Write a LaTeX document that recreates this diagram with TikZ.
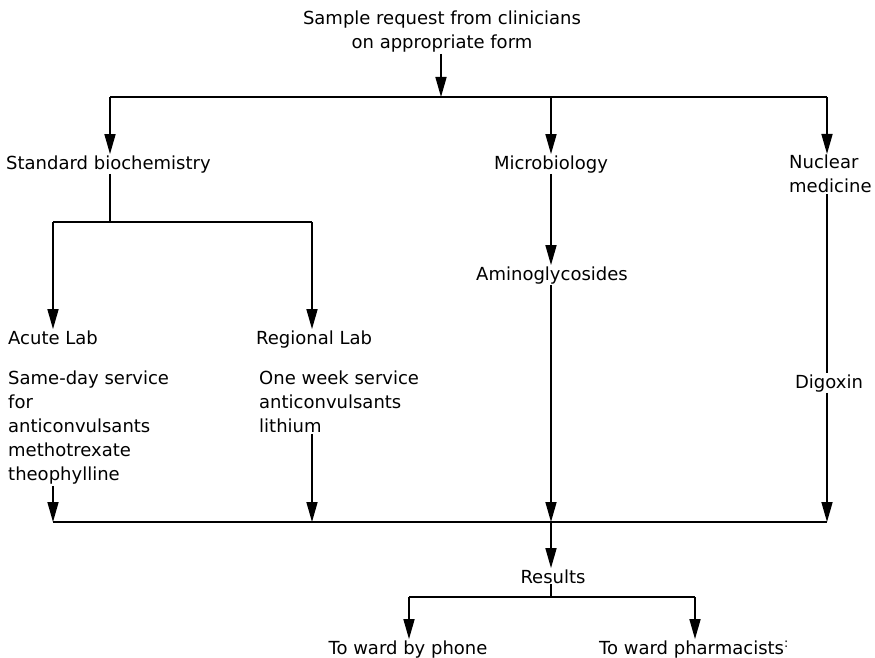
\documentclass[tikz,border=0pt]{standalone}
\usepackage{fontspec}
\setmainfont{DejaVu Sans}
\usetikzlibrary{arrows.meta}
\tikzset{
  lbl/.style={inner sep=1pt, font=\fontsize{18}{24}\selectfont},
  flow/.style={line width=1.6pt, -{Triangle[length=20pt,width=11pt]}},
  wire/.style={line width=1.6pt}
}
\begin{document}
\begin{tikzpicture}[x=1pt,y=-1pt]
\useasboundingbox (0,0) rectangle (875,658);
% labels
\node[lbl, align=center] (req) at (442,32) {Sample request from clinicians\\on appropriate form};
\node[lbl, anchor=base west] (std) at (5,169) {Standard biochemistry};
\node[lbl, anchor=base] (micro) at (551,169) {Microbiology};
\node[lbl, anchor=north west, align=left] (nuc) at (788,154) {Nuclear\\medicine};
\node[lbl, anchor=base west] (acute) at (7,344) {Acute Lab};
\node[lbl, anchor=base west] (regional) at (255,344) {Regional Lab};
\node[lbl, anchor=north west, align=left] (sameday) at (7,370) {Same-day service\\for\\anticonvulsants\\methotrexate\\theophylline};
\node[lbl, anchor=north west, align=left] (oneweek) at (258,370) {One week service\\anticonvulsants\\lithium};
\node[lbl, anchor=base] (amino) at (552,280) {Aminoglycosides};
\node[lbl, anchor=base] (digoxin) at (829,388) {Digoxin};
\node[lbl, anchor=base] (results) at (553,583) {Results};
\node[lbl, anchor=base] (phone) at (408,654) {To ward by phone};
\node[lbl, anchor=base west] (pharm) at (598,654) {To ward pharmacists\textsuperscript{:}};
% junctions
\coordinate (top) at (441,97);
\coordinate (tl) at (110,97);
\coordinate (tm) at (551,97);
\coordinate (tr) at (827,97);
\coordinate (split) at (110,222);
\coordinate (sl) at (53,222);
\coordinate (sr) at (312,222);
\coordinate (bl) at (53,522);
\coordinate (bm) at (312,522);
\coordinate (collect) at (551,522);
\coordinate (br) at (827,522);
\coordinate (out) at (551,597);
\coordinate (ol) at (409,597);
\coordinate (or) at (695,597);
% request to departments
\draw[flow] (top |- req.south) -- (top);
\draw[wire] (tl) -- (tr);
\draw[flow] (tl) -- (tl |- std.north);
\draw[flow] (tm) -- (tm |- micro.north);
\draw[flow] (tr) -- (tr |- nuc.north);
% biochemistry split
\draw[wire] (split |- std.south) -- (split);
\draw[wire] (sl) -- (sr);
\draw[flow] (sl) -- (sl |- acute.north);
\draw[flow] (sr) -- (sr |- regional.north);
\draw[flow] (tm |- micro.south) -- (tm |- amino.north);
\draw[wire] (tr |- nuc.south) -- (tr |- digoxin.north);
% into results
\draw[wire] (bl) -- (br);
\draw[flow] (bl |- sameday.south) -- (bl);
\draw[flow] (bm |- oneweek.south) -- (bm);
\draw[flow] (collect |- amino.south) -- (collect);
\draw[flow] (br |- digoxin.south) -- (br);
\draw[flow] (collect) -- (collect |- results.north);
% results out
\draw[wire] (out |- results.south) -- (out);
\draw[wire] (ol) -- (or);
\draw[flow] (ol) -- (ol |- phone.north);
\draw[flow] (or) -- (or |- pharm.north);
\end{tikzpicture}
\end{document}
